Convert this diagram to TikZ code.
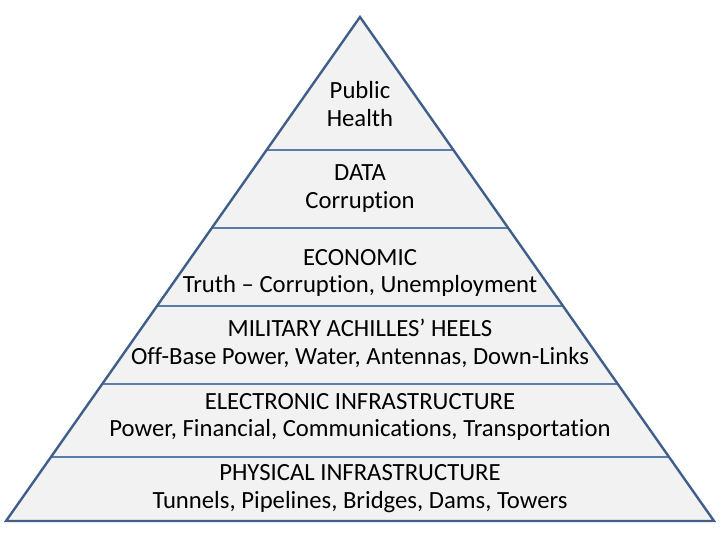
\documentclass[tikz,border=0pt]{standalone}
\usepackage{fontspec}
\setmainfont[Ligatures={NoCommon}]{Carlito}
\usepackage{xcolor}
\usetikzlibrary{calc}
\definecolor{edgeblue}{HTML}{3F5F8A}
\definecolor{layerblue}{HTML}{5A7DAA}
\definecolor{pyrfill}{HTML}{F2F2F2}

\begin{document}
\begin{tikzpicture}[
            x=1bp, y=-1bp,
            pyr/.style = {draw=edgeblue, fill=pyrfill, line width=2.4pt,
                         line join=miter},
            layer/.style = {draw=layerblue, line width=2.2pt},
            tier/.style = {align=center, inner sep=0pt,
                         font=\fontsize{24.8}{28}\selectfont}
        ]
            \useasboundingbox (0,0) rectangle (720,540);
            \coordinate (apex) at (360,17);
            \coordinate (bl) at (6,521);
            \coordinate (br) at (714,521);

            \fill[pyrfill] (apex) -- (bl) -- (br) -- cycle;
            \foreach \y in {150,228,306,384,457}
                \draw[layer] ($(apex)!{(\y-17)/504}!(bl)$) -- ($(apex)!{(\y-17)/504}!(br)$);
            \draw[pyr, fill=none] (apex) -- (bl) -- (br) -- cycle;

            %
            \node[tier] (health) at (360,104) {Public\\Health};
            \node[tier] (data) at (360,189) {DATA\\Corruption};
            \node[tier] (econ) at (360,273) {ECONOMIC\\Truth -- Corruption, Unemployment};
            \node[tier] (mil) at (360,343) {MILITARY ACHILLES’ HEELS\\Off-Base Power, Water, Antennas, Down-Links};
            \node[tier] (elec) at (360,417) {ELECTRONIC INFRASTRUCTURE\\Power, Financial, Communications, Transportation};
            \node[tier] (phys) at (360,489) {PHYSICAL INFRASTRUCTURE\\Tunnels, Pipelines, Bridges, Dams, Towers};
        \end{tikzpicture}
\end{document}
